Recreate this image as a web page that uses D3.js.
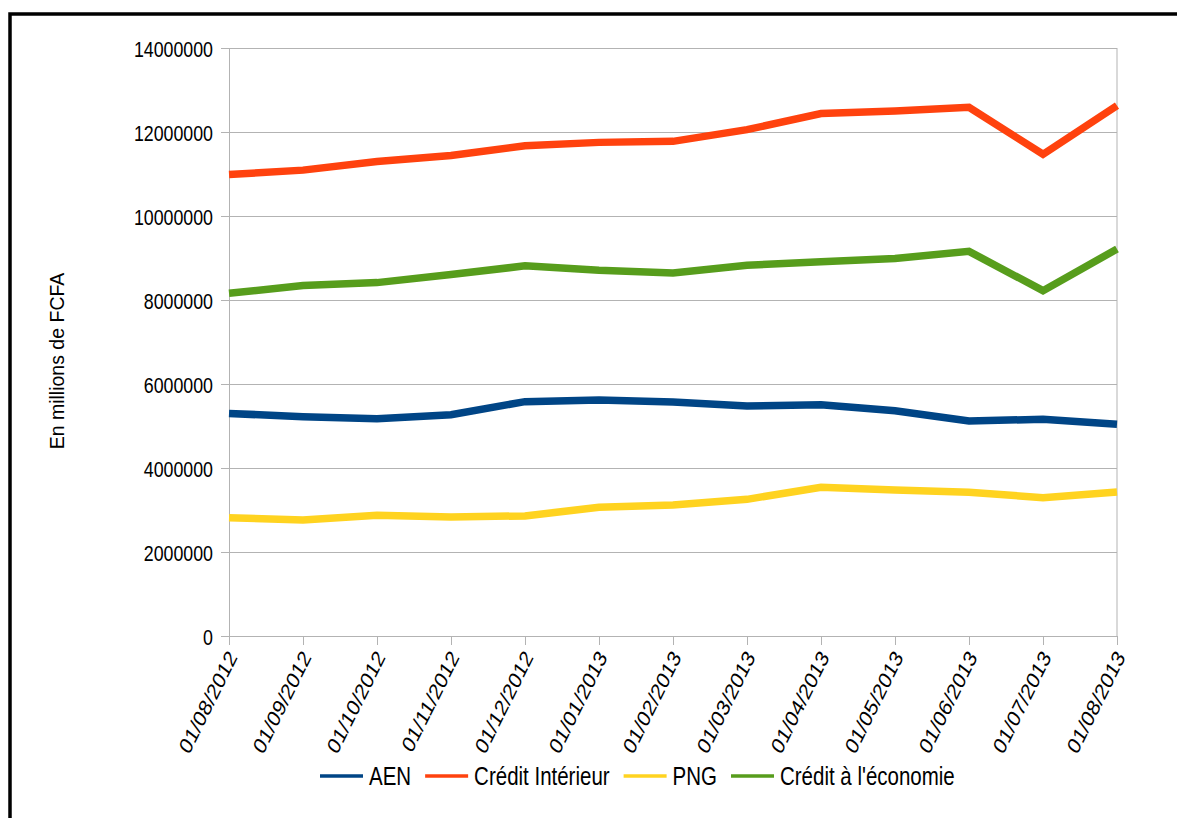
<!DOCTYPE html>
<html>
<head>
<meta charset="utf-8">
<script src="https://cdn.jsdelivr.net/npm/d3@7"></script>
<style>
	body { margin: 0; background: #fff; }
	svg text { font-family: 'Liberation Sans', Arial, sans-serif; fill: #000; }
</style>
</head>
<body>
<svg id="canvas"></svg>
<script>
const dates = [
	'01/08/2012', '01/09/2012', '01/10/2012', '01/11/2012', '01/12/2012', '01/01/2013', '01/02/2013',
	'01/03/2013', '01/04/2013', '01/05/2013', '01/06/2013', '01/07/2013', '01/08/2013'
];
const aen = [5300000, 5220000, 5175000, 5270000, 5580000, 5620000, 5570000, 5476000, 5508000, 5365000, 5119000, 5160000, 5040000];
const creditInterieur = [10988000, 11092000, 11299000, 11442000, 11673000, 11753000, 11777000, 12056000, 12438000, 12502000, 12587000, 11470000, 12630000];
const png = [2817000, 2762000, 2873000, 2833000, 2860000, 3063000, 3119000, 3254000, 3540000, 3476000, 3421000, 3294000, 3429000];
const creditEconomie = [8159000, 8343000, 8414000, 8606000, 8813000, 8709000, 8645000, 8829000, 8908000, 8988000, 9159000, 8222000, 9214000];
const seriesNames = ['AEN', 'Crédit Intérieur', 'PNG', "Crédit à l'économie"];
const yTicks = [0, 2000000, 4000000, 6000000, 8000000, 10000000, 12000000, 14000000];
const yTitle = 'En millions de FCFA';

(() => {
	const w = 1177;
	const h = 818;
	const plotLeft = 229;
	const plotRight = 1117;
	const plotTop = 48;
	const plotBottom = 636;
	// the reference text looks stretched vertically
	const stretch = 1.25;

	const series = [
		{ name: seriesNames[0], values: aen, color: '#004586' },
		{ name: seriesNames[1], values: creditInterieur, color: '#ff420e' },
		{ name: seriesNames[2], values: png, color: '#ffd320' },
		{ name: seriesNames[3], values: creditEconomie, color: '#579d1c' }
	];

	const svg = d3.select('#canvas').attr('width', w).attr('height', h);

	// outer frame (right and bottom edges run off the picture)
	svg.append('rect')
		.attr('x', 10).attr('y', 14)
		.attr('width', 1300).attr('height', 900)
		.attr('fill', 'none').attr('stroke', '#000').attr('stroke-width', 3.5);

	const x = d3.scalePoint().domain(dates).range([plotLeft, plotRight]);
	const y = d3.scaleLinear().domain([0, 14000000]).range([plotBottom, plotTop]);

	// gridlines
	svg.append('g')
		.attr('transform', 'translate(' + plotLeft + ',0)')
		.call(d3.axisLeft(y).tickValues(yTicks).tickSize(-(plotRight - plotLeft)).tickFormat(''))
		.call((g) => g.select('.domain').remove())
		.call((g) => g.selectAll('line').attr('stroke', '#b3b3b3'));

	// right border of plot
	svg.append('line')
		.attr('x1', plotRight).attr('x2', plotRight).attr('y1', plotTop).attr('y2', plotBottom)
		.attr('stroke', '#b3b3b3');

	const yAxis = svg.append('g')
		.attr('id', 'y-axis')
		.attr('transform', 'translate(' + plotLeft + ',0)')
		.call(d3.axisLeft(y).tickValues(yTicks).tickSize(8).tickPadding(8).tickFormat(d3.format('d')));
	yAxis.select('.domain').attr('stroke', '#b3b3b3');
	yAxis.selectAll('line').attr('stroke', '#b3b3b3');
	yAxis.selectAll('text')
		.attr('font-size', 17.8)
		.attr('x', -16)
		.attr('dy', '0.36em')
		.attr('transform', 'scale(1,' + stretch + ')');

	const xAxis = svg.append('g')
		.attr('id', 'x-axis')
		.attr('transform', 'translate(0,' + plotBottom + ')')
		.call(d3.axisBottom(x).tickSize(9));
	xAxis.select('.domain').attr('stroke', '#b3b3b3');
	xAxis.selectAll('line').attr('stroke', '#b3b3b3');
	xAxis.selectAll('text')
		.attr('font-size', 18.5)
		.attr('x', 0)
		.attr('y', 0)
		.attr('dy', '0.35em')
		.attr('text-anchor', 'end')
		.attr('transform', 'translate(3,17) scale(1,' + stretch + ') rotate(-58)');

	svg.append('text')
		.attr('transform', 'translate(64,361) rotate(-90)')
		.attr('text-anchor', 'middle')
		.attr('font-size', 19.5)
		.text(yTitle);

	const line = d3.line()
		.x((d, i) => x(dates[i]))
		.y((d) => y(d));

	svg.selectAll('.series')
		.data(series)
		.enter()
		.append('path')
		.attr('class', 'series')
		.attr('d', (s) => line(s.values))
		.attr('fill', 'none')
		.attr('stroke', (s) => s.color)
		.attr('stroke-width', 7.5);

	// legend
	const legend = svg.append('g').attr('transform', 'translate(320,776)');
	let lx = 0;
	series.forEach((s) => {
		legend.append('line')
			.attr('x1', lx).attr('x2', lx + 43)
			.attr('stroke', s.color).attr('stroke-width', 3.5);
		const t = legend.append('text')
			.attr('x', lx + 49)
			.attr('dy', '0.36em')
			.attr('font-size', 20.5)
			.attr('transform', 'scale(1,' + stretch + ')')
			.text(s.name);
		lx += 49 + t.node().getComputedTextLength() + 14;
	});
})();
</script>
</body>
</html>
